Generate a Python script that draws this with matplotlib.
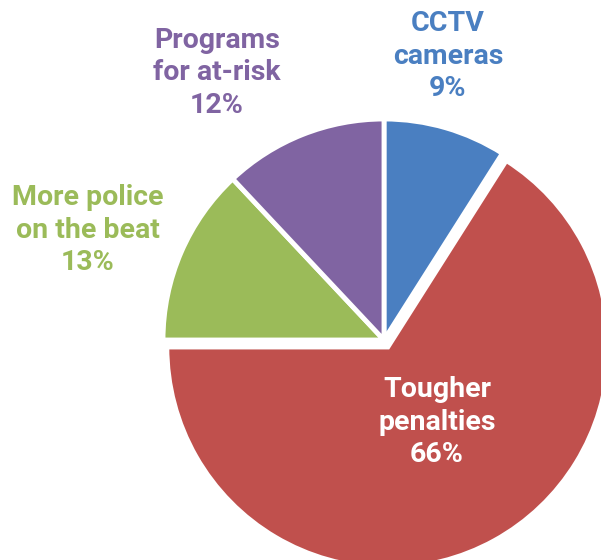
import matplotlib.pyplot as plt

# datos del gráfico
categorias = ["CCTV\ncameras", "Tougher\npenalties", "More police\non the beat", "Programs\nfor at-risk"]
porcentajes = [9, 66, 13, 12]
colores = ["#4A7FC1", "#C0504D", "#9BBB59", "#8064A2"]
colores_texto = ["#4A7FC1", "white", "#9BBB59", "#8064A2"]

W, H = 601, 560
fig = plt.figure(figsize=(W / 100, H / 100), dpi=100)
ax = fig.add_axes([0, 0, 1, 1])

cx, cy, r = 384, H - 340, 221
separacion = [0, 8, 0, 0]   # en pixeles (unidades de datos)
ax.pie(porcentajes, colors=colores, startangle=90, counterclock=False,
       explode=separacion, center=(cx, cy), radius=r, frame=True,
       wedgeprops=dict(edgecolor="white", linewidth=3.5))
ax.set_xlim(0, W)
ax.set_ylim(0, H)
ax.set_aspect("equal")
ax.axis("off")

# posiciones de las etiquetas (pixeles)
pos_etiquetas = [(448, 56), (437, 422), (88, 230), (217, 73)]
for cat, p, (x, y), c in zip(categorias, porcentajes, pos_etiquetas, colores_texto):
    ax.text(x, H - y, f"{cat}\n{p}%", ha="center", va="center",
            color=c, fontsize=20.5, fontweight="bold", family="Roboto",
            linespacing=1.27)

fig.savefig("out.png", dpi=100)
